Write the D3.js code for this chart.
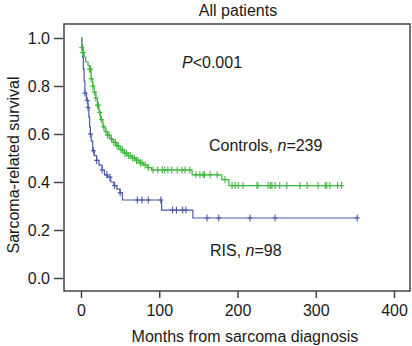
<!DOCTYPE html>
<html>
<head>
<meta charset="utf-8">
<script src="https://cdn.jsdelivr.net/npm/d3@7"></script>
<style>
  body { margin: 0; background: #fff; }
  text { font-family: "Liberation Sans", Arial, sans-serif; fill: #1a1a1a; }
</style>
</head>
<body>
<div class="canvas"></div>
<script>
// Kaplan-Meier steps [month, survival]
const controlsSteps = [
  [0, 1.0], [1, 0.96], [2, 0.94], [4, 0.92], [6, 0.90], [9, 0.885], [11, 0.87], [13, 0.83],
  [15, 0.80], [17, 0.775], [19, 0.75], [21, 0.72], [23, 0.69], [25, 0.66], [28, 0.63],
  [31, 0.61], [34, 0.595], [37, 0.58], [41, 0.565], [45, 0.55], [50, 0.535], [55, 0.52],
  [60, 0.51], [65, 0.50], [70, 0.49], [75, 0.48], [80, 0.47], [85, 0.46], [90, 0.45],
  [142, 0.43], [180, 0.41], [189, 0.385]
];
const controlsEnd = 333;
const controlsCensor = [1, 2, 3, 11, 12, 13, 15, 17, 19, 21, 22, 24, 26, 29, 32, 34, 36, 39, 42, 44,
  46, 48, 51, 53, 56, 58, 61, 63, 66, 68, 71, 73, 76, 78, 82, 86, 92, 98, 104, 107, 111, 116,
  123, 129, 133, 139, 147, 152, 156, 158, 165, 174, 184, 193, 197, 201, 207, 225, 226, 239,
  242, 244, 248, 254, 263, 280, 289, 303, 312, 314, 318, 328, 333];

const risSteps = [
  [0, 1.0], [1, 0.97], [2, 0.92], [3, 0.87], [4, 0.82], [5, 0.77], [7, 0.74], [9, 0.71],
  [10, 0.67], [11, 0.63], [12, 0.60], [13, 0.57], [15, 0.53], [17, 0.51], [20, 0.49],
  [23, 0.47], [27, 0.45], [30, 0.43], [34, 0.42], [38, 0.40], [42, 0.385], [46, 0.37],
  [50, 0.355], [53, 0.325], [103, 0.283], [143, 0.25]
];
const risEnd = 353;
const risCensor = [5, 8, 9, 12, 16, 20, 27, 33, 37, 43, 50, 72, 78, 86, 102, 117, 122, 130, 134,
  161, 176, 216, 248, 353];

const xTicks = [0, 100, 200, 300, 400];
const yTicks = [0, 0.2, 0.4, 0.6, 0.8, 1.0];

const width = 412, height = 346;
const fs = 16;

const svg = d3.select(".canvas").append("svg")
  .attr("width", width).attr("height", height);

// 0 -> 81px, 400 -> 394px ; 0 -> 278px, 1 -> 38px
const x = d3.scaleLinear().domain([0, 400]).range([81, 394]);
const y = d3.scaleLinear().domain([0, 1]).range([278, 38]);

const box = { left: 64, right: 410, top: 24, bottom: 291 };

svg.append("rect")
  .attr("x", box.left).attr("y", box.top)
  .attr("width", box.right - box.left).attr("height", box.bottom - box.top)
  .attr("fill", "none").attr("stroke", "#444").attr("stroke-width", 1.5);

const xAxis = d3.axisBottom(x).tickValues(xTicks).tickSize(7).tickPadding(7).tickFormat(d3.format("d"));
const yAxis = d3.axisLeft(y).tickValues(yTicks).tickSize(9).tickPadding(4).tickFormat(d3.format(".1f"));

const xg = svg.append("g").attr("transform", `translate(0,${box.bottom})`).call(xAxis);
const yg = svg.append("g").attr("transform", `translate(${box.left - 1},0)`).call(yAxis);
[xg, yg].forEach(g => {
  g.select(".domain").remove();
  g.selectAll(".tick line").attr("stroke", "#444").attr("stroke-width", 1.5);
  g.selectAll(".tick text").attr("font-size", fs).attr("fill", "#1a1a1a")
    .style("font-family", "'Liberation Sans', Arial, sans-serif");
});

function km(steps, end) {
  return steps.concat([[end, steps[steps.length - 1][1]]]);
}
function survAt(steps, t) {
  let s = 1;
  for (const [m, v] of steps) { if (m <= t) s = v; }
  return s;
}

const line = d3.line().x(d => x(d[0])).y(d => y(d[1])).curve(d3.curveStepAfter);

function drawGroup(steps, end, censor, color) {
  const g = svg.append("g");
  g.append("path").datum(km(steps, end))
    .attr("fill", "none").attr("stroke", color).attr("stroke-width", 1.2).attr("d", line);
  const marks = g.selectAll("g.cm").data(censor).enter().append("g")
    .attr("transform", t => `translate(${x(t)},${y(survAt(steps, t))})`);
  marks.append("line").attr("x1", 0).attr("x2", 0).attr("y1", -3.5).attr("y2", 3.5)
    .attr("stroke", color).attr("stroke-width", 1.1);
  marks.append("line").attr("x1", -2.5).attr("x2", 2.5).attr("y1", 0).attr("y2", 0)
    .attr("stroke", color).attr("stroke-width", 1.1);
}

drawGroup(risSteps, risEnd, risCensor, "#4a5aaa");
drawGroup(controlsSteps, controlsEnd, controlsCensor, "#3fb83f");

// text
svg.append("text").attr("x", 238).attr("y", 16).attr("text-anchor", "middle")
  .attr("font-size", fs).text("All patients");

const p = svg.append("text").attr("x", 182).attr("y", 68).attr("font-size", fs);
p.append("tspan").attr("font-style", "italic").text("P");
p.append("tspan").text("<0.001");

const c = svg.append("text").attr("x", 209).attr("y", 151).attr("font-size", fs);
c.append("tspan").text("Controls, ");
c.append("tspan").attr("font-style", "italic").text("n");
c.append("tspan").text("=239");

const r = svg.append("text").attr("x", 210).attr("y", 256).attr("font-size", fs);
r.append("tspan").text("RIS, ");
r.append("tspan").attr("font-style", "italic").text("n");
r.append("tspan").text("=98");

svg.append("text").attr("x", 245).attr("y", 342).attr("text-anchor", "middle")
  .attr("font-size", fs).text("Months from sarcoma diagnosis");

svg.append("text").attr("transform", "translate(19,165) rotate(-90)")
  .attr("text-anchor", "middle").attr("font-size", fs).text("Sarcoma-related survival");
</script>
</body>
</html>
